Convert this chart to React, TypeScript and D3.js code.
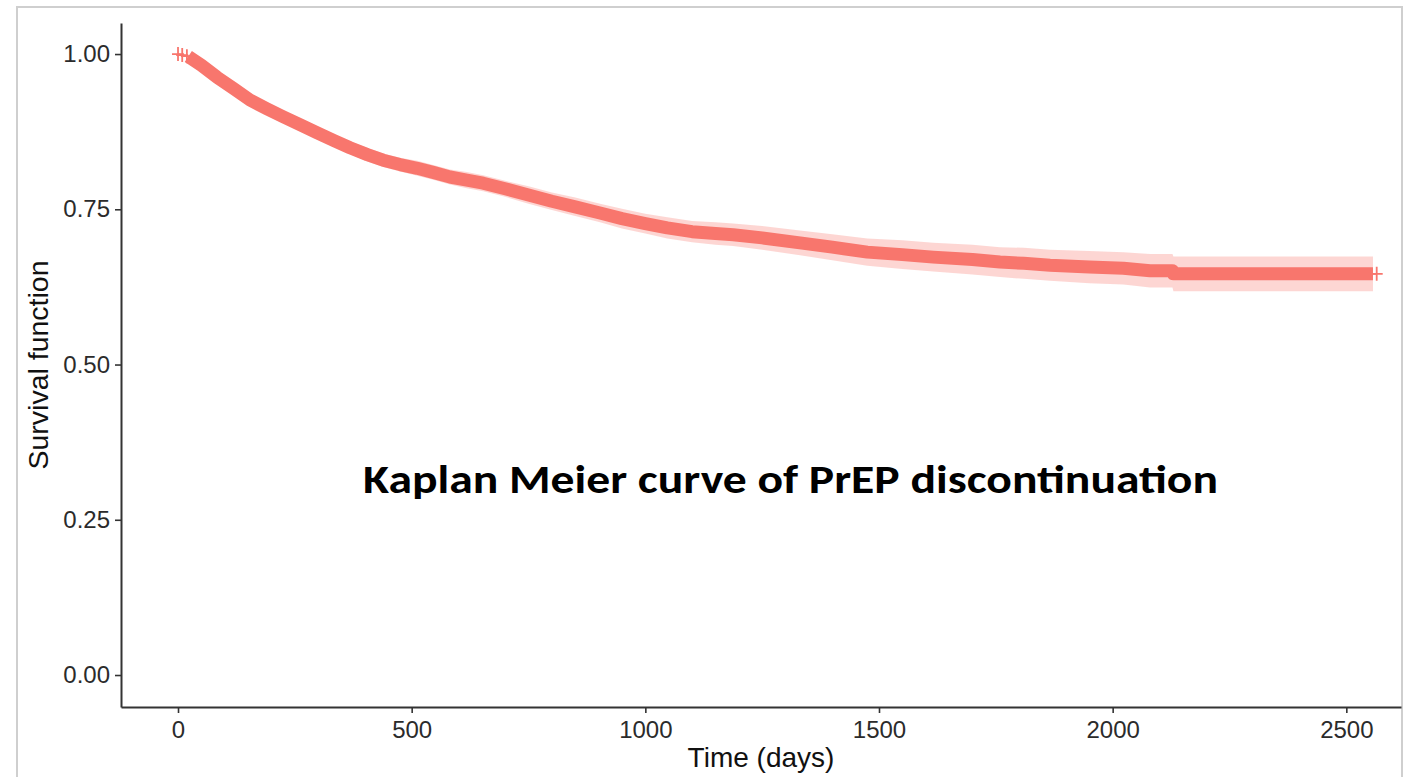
import { useEffect, useRef } from 'react';
import * as d3 from 'd3';

// Kaplan-Meier estimate (days, survival, 95% CI).
// Events are so dense that the steps blur into a smooth curve, except the tail drop near 2130.
const kmTime = [
  0, 22, 50, 83, 120, 154, 190, 225, 262, 298, 335, 368, 405, 439, 475, 512,
  548, 582, 618, 653, 700, 750, 800, 850, 903, 950, 1000, 1047, 1100, 1150,
  1188, 1250, 1331, 1400, 1475, 1550, 1616, 1700, 1759, 1810, 1866, 1950,
  2023, 2080, 2128, 2130, 2557,
];
const kmSurv = [
  1.0, 0.996, 0.982, 0.963, 0.944, 0.926, 0.912, 0.899, 0.886, 0.873, 0.86,
  0.849, 0.838, 0.829, 0.822, 0.816, 0.809, 0.802, 0.797, 0.792, 0.783, 0.773,
  0.763, 0.754, 0.744, 0.735, 0.727, 0.72, 0.714, 0.711, 0.709, 0.704, 0.696,
  0.689, 0.681, 0.677, 0.673, 0.669, 0.665, 0.663, 0.66, 0.657, 0.655, 0.651,
  0.651, 0.646, 0.646,
];
const kmLower = [
  1.0, 0.994, 0.978, 0.958, 0.938, 0.919, 0.904, 0.891, 0.877, 0.864, 0.85,
  0.839, 0.827, 0.818, 0.811, 0.804, 0.797, 0.79, 0.784, 0.779, 0.77, 0.759,
  0.749, 0.739, 0.729, 0.719, 0.711, 0.703, 0.697, 0.693, 0.691, 0.685, 0.676,
  0.668, 0.659, 0.654, 0.65, 0.645, 0.641, 0.638, 0.635, 0.631, 0.629, 0.624,
  0.624, 0.618, 0.618,
];
const kmUpper = [
  1.0, 0.998, 0.986, 0.968, 0.95, 0.933, 0.92, 0.907, 0.895, 0.882, 0.87,
  0.859, 0.849, 0.84, 0.833, 0.828, 0.821, 0.814, 0.81, 0.805, 0.796, 0.787,
  0.777, 0.769, 0.759, 0.751, 0.743, 0.737, 0.731, 0.729, 0.727, 0.723, 0.716,
  0.71, 0.703, 0.7, 0.696, 0.693, 0.689, 0.688, 0.685, 0.683, 0.681, 0.678,
  0.678, 0.674, 0.674,
];

// isolated censor marks; within denseSpan the marks overplot into a solid band
const censorTimes = [0, 9, 19, 2565];
const denseSpan = [22, 2557];

const xTicks = [0, 500, 1000, 1500, 2000, 2500];
const yTicks = [0, 0.25, 0.5, 0.75, 1];

const RED = '#F8766D';
const FONT = "'Liberation Sans', Arial, Helvetica, sans-serif";

export default function App() {
  const svgRef = useRef<SVGSVGElement | null>(null);

  useEffect(() => {
    if (!svgRef.current) return;
    const svg = d3.select(svgRef.current);
    svg.selectAll('*').remove();

    // outer frame of the screenshot
    svg.append('rect')
      .attr('x', 17)
      .attr('y', 7)
      .attr('width', 1385)
      .attr('height', 820)
      .attr('fill', 'none')
      .attr('stroke', '#cfcfcf')
      .attr('stroke-width', 2);

    const x = d3.scaleLinear().domain([-122, 2617]).range([121, 1401]);
    const y = d3.scaleLinear().domain([-0.0515, 1.05]).range([707, 23]);

    const pts = kmTime.map((t, i) => ({ t, s: kmSurv[i], lo: kmLower[i], hi: kmUpper[i] }));
    const survAt = (t: number) => {
      const i = d3.bisector((d: any) => d.t).right(pts, t);
      if (i <= 0) return pts[0].s;
      if (i >= pts.length) return pts[pts.length - 1].s;
      const a = pts[i - 1];
      const b = pts[i];
      return a.s + ((b.s - a.s) * (t - a.t)) / (b.t - a.t);
    };

    // confidence band
    const band = d3.area<any>()
      .x((d) => x(d.t))
      .y0((d) => y(d.lo))
      .y1((d) => y(d.hi));
    svg.append('path')
      .datum(pts)
      .attr('d', band)
      .attr('fill', RED)
      .attr('fill-opacity', 0.3);

    const line = d3.line<any>()
      .x((d) => x(d.t))
      .y((d) => y(d.s));

    // thin survival line to the last censored time
    const lastT = d3.max(censorTimes) as number;
    svg.append('path')
      .datum([...pts, { t: lastT, s: survAt(lastT) }])
      .attr('d', line)
      .attr('fill', 'none')
      .attr('stroke', RED)
      .attr('stroke-width', 1.6);

    // dense censoring region
    const dense = [
      { t: denseSpan[0], s: survAt(denseSpan[0]) },
      ...pts.filter((d) => d.t > denseSpan[0] && d.t < denseSpan[1]),
      { t: denseSpan[1], s: survAt(denseSpan[1]) },
    ];
    svg.append('path')
      .datum(dense)
      .attr('d', line)
      .attr('fill', 'none')
      .attr('stroke', RED)
      .attr('stroke-width', 13)
      .attr('stroke-linejoin', 'round');

    // censor marks
    svg.selectAll('path.cens')
      .data(censorTimes)
      .join('path')
      .attr('class', 'cens')
      .attr('d', (t) => {
        const cx = x(t);
        const cy = y(survAt(t));
        return `M${cx - 6},${cy}H${cx + 6}M${cx},${cy - 7}V${cy + 7}`;
      })
      .attr('stroke', RED)
      .attr('stroke-width', 1.8)
      .attr('fill', 'none');

    // Axes
    const gx = svg.append('g')
      .attr('transform', 'translate(0,707)')
      .call(d3.axisBottom(x).tickValues(xTicks).tickSize(6).tickSizeOuter(0).tickPadding(8).tickFormat(d3.format('d')));
    const gy = svg.append('g')
      .attr('transform', 'translate(121,0)')
      .call(d3.axisLeft(y).tickValues(yTicks).tickSize(6).tickSizeOuter(0).tickPadding(5).tickFormat(d3.format('.2f')));

    [gx, gy].forEach((g) => {
      g.select('.domain').attr('stroke', '#333').attr('stroke-width', 2);
      g.selectAll('.tick line').attr('stroke', '#333').attr('stroke-width', 1.6);
      g.selectAll('.tick text')
        .attr('fill', '#2b2b2b')
        .attr('font-family', FONT)
        .attr('font-size', '24px');
    });

    // Axis titles
    svg.append('text')
      .attr('x', 761)
      .attr('y', 767)
      .attr('text-anchor', 'middle')
      .attr('font-family', FONT)
      .attr('font-size', '28px')
      .attr('fill', '#111')
      .text('Time (days)');

    svg.append('text')
      .attr('transform', 'translate(48,365) rotate(-90)')
      .attr('text-anchor', 'middle')
      .attr('font-family', FONT)
      .attr('font-size', '28.5px')
      .attr('fill', '#111')
      .text('Survival function');

    // overlaid caption
    svg.append('text')
      .attr('x', 363)
      .attr('y', 493)
      .attr('font-family', "Carlito, Calibri, Lato, 'Open Sans', sans-serif")
      .attr('font-weight', 700)
      .attr('font-size', '41px')
      .attr('fill', '#000')
      .attr('textLength', 855)
      .attr('lengthAdjust', 'spacingAndGlyphs')
      .text('Kaplan Meier curve of PrEP discontinuation');
  }, []);

  return (
    <div style={{ position: 'absolute', left: 0, top: 0, width: 1405, height: 777, background: '#fff' }}>
      <svg ref={svgRef} width={1405} height={777} />
    </div>
  );
}
